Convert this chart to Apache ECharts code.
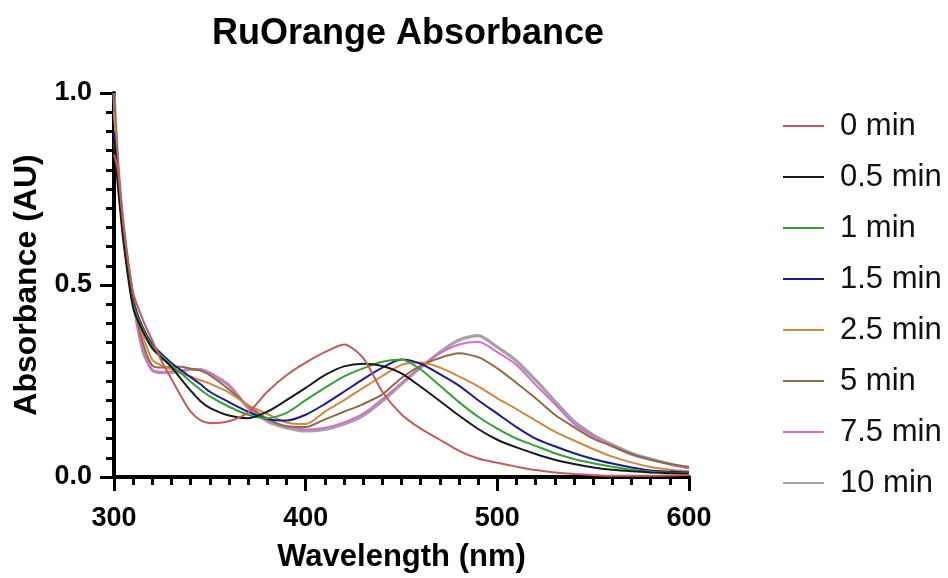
<!DOCTYPE html>
<html>
<head>
<meta charset="utf-8">
<title>RuOrange Absorbance</title>
<script src="https://cdn.jsdelivr.net/npm/echarts@6/dist/echarts.min.js"></script>
<style>
  html, body { margin: 0; padding: 0; background: #fff; }
  #chart { width: 948px; height: 578px; }
</style>
</head>
<body>
<div id="chart"></div>
<script>
// wavelengths (nm)
const wavelengths = [300, 302, 305, 310, 315, 320, 325, 330, 335, 340, 345, 350,
  360, 370, 380, 390, 400, 410, 420, 430, 440, 450, 460, 470, 480, 490, 500,
  510, 520, 530, 540, 550, 560, 570, 580, 590, 600]

const seriesNames = ['0 min', '0.5 min', '1 min', '1.5 min', '2.5 min', '5 min', '7.5 min', '10 min']
const seriesColors = ['#C45B5B', '#1a1a1a', '#33A033', '#1C1C8F', '#D4873F', '#8C6B45', '#D66FCB', '#A3A3A3']

// absorbance (AU)
const abs0 = [0.84, 0.80, 0.65, 0.48, 0.41, 0.355, 0.30, 0.255, 0.21, 0.17, 0.148, 0.14,
  0.145, 0.168, 0.222, 0.265, 0.298, 0.325, 0.345, 0.31, 0.222, 0.163, 0.126, 0.097, 0.068, 0.048, 0.037,
  0.027, 0.018, 0.012, 0.008, 0.005, 0.003, 0.003, 0.003, 0.004, 0.005]
const abs05 = [0.88, 0.76, 0.61, 0.44, 0.38, 0.335, 0.31, 0.286, 0.255, 0.225, 0.198, 0.18,
  0.16, 0.153, 0.17, 0.2, 0.232, 0.265, 0.288, 0.295, 0.289, 0.27, 0.235, 0.198, 0.16, 0.125, 0.097,
  0.077, 0.06, 0.045, 0.034, 0.025, 0.019, 0.015, 0.012, 0.01, 0.008]
const abs1 = [0.87, 0.77, 0.62, 0.45, 0.385, 0.34, 0.315, 0.29, 0.27, 0.248, 0.228, 0.21,
  0.183, 0.162, 0.153, 0.167, 0.2, 0.232, 0.262, 0.283, 0.3, 0.306, 0.28, 0.238, 0.195, 0.157, 0.126,
  0.1, 0.081, 0.062, 0.047, 0.036, 0.027, 0.019, 0.014, 0.011, 0.009]
const abs15 = [0.90, 0.78, 0.63, 0.46, 0.39, 0.345, 0.32, 0.297, 0.278, 0.26, 0.242, 0.222,
  0.195, 0.17, 0.151, 0.147, 0.162, 0.19, 0.222, 0.255, 0.285, 0.306, 0.295, 0.268, 0.238, 0.2, 0.165,
  0.13, 0.1, 0.08, 0.062, 0.047, 0.035, 0.025, 0.017, 0.014, 0.012]
const abs25 = [0.95, 0.80, 0.64, 0.47, 0.37, 0.305, 0.29, 0.28, 0.27, 0.262, 0.252, 0.243,
  0.22, 0.187, 0.164, 0.142, 0.138, 0.17, 0.2, 0.232, 0.263, 0.292, 0.298, 0.285, 0.262, 0.236, 0.205,
  0.177, 0.147, 0.118, 0.095, 0.073, 0.053, 0.038, 0.026, 0.019, 0.015]
const abs5 = [1.0, 0.82, 0.65, 0.47, 0.35, 0.29, 0.285, 0.287, 0.287, 0.282, 0.277, 0.265,
  0.228, 0.186, 0.152, 0.132, 0.13, 0.15, 0.17, 0.19, 0.215, 0.258, 0.29, 0.31, 0.322, 0.312, 0.283,
  0.245, 0.205, 0.162, 0.13, 0.1, 0.08, 0.06, 0.045, 0.034, 0.026]
const abs75 = [1.0, 0.82, 0.65, 0.46, 0.33, 0.278, 0.274, 0.274, 0.278, 0.282, 0.28, 0.272,
  0.24, 0.182, 0.148, 0.132, 0.124, 0.128, 0.142, 0.165, 0.203, 0.245, 0.287, 0.322, 0.345, 0.352, 0.325,
  0.292, 0.24, 0.19, 0.138, 0.106, 0.08, 0.058, 0.045, 0.033, 0.022]
const abs10 = [1.0, 0.82, 0.65, 0.46, 0.33, 0.278, 0.272, 0.272, 0.276, 0.28, 0.28, 0.27,
  0.238, 0.18, 0.145, 0.128, 0.12, 0.124, 0.138, 0.16, 0.198, 0.242, 0.285, 0.325, 0.357, 0.368, 0.338,
  0.302, 0.252, 0.198, 0.145, 0.11, 0.084, 0.062, 0.047, 0.034, 0.024]

const allAbs = [abs0, abs05, abs1, abs15, abs25, abs5, abs75, abs10]

const font = 'Liberation Sans, Arial, sans-serif'

function buildSeries () {
  const list = []
  // draw the later times first so that 0 min ends on top
  for (let i = allAbs.length - 1; i >= 0; i--) {
    list.push({
      name: seriesNames[i],
      type: 'line',
      data: wavelengths.map((w, k) => [w, allAbs[i][k]]),
      showSymbol: false,
      symbol: 'none',
      smooth: 0.25,
      color: seriesColors[i],
      lineStyle: { width: i === 7 ? 3.2 : 2, color: seriesColors[i] }
    })
  }
  return list
}

const chart = echarts.init(document.getElementById('chart'))
chart.setOption({
  animation: false,
  backgroundColor: '#fff',
  title: {
    text: 'RuOrange Absorbance',
    left: 403,
    top: 11,
    textAlign: 'center',
    textStyle: { fontFamily: font, fontWeight: 'bold', fontSize: 36, color: '#000' }
  },
  legend: {
    orient: 'vertical',
    left: 778,
    top: 105,
    icon: 'rect',
    itemWidth: 41,
    itemHeight: 2,
    itemGap: 19,
    data: seriesNames,
    textStyle: { fontFamily: font, fontSize: 31, color: '#111', lineHeight: 32, padding: [0, 0, 0, 11] }
  },
  grid: { left: 114, right: 259, top: 93, bottom: 101 },
  xAxis: {
    type: 'value',
    min: 300,
    max: 600,
    interval: 100,
    name: 'Wavelength (nm)',
    nameLocation: 'middle',
    nameGap: 65,
    nameTextStyle: { fontFamily: font, fontWeight: 'bold', fontSize: 31, color: '#000' },
    axisLine: { lineStyle: { color: '#000', width: 4 } },
    axisTick: { length: 14, lineStyle: { color: '#000', width: 3 } },
    minorTick: { show: true, splitNumber: 10, length: 8, lineStyle: { color: '#000', width: 3 } },
    axisLabel: { margin: 28, fontFamily: font, fontWeight: 'bold', fontSize: 27, color: '#000' },
    splitLine: { show: false }
  },
  yAxis: {
    type: 'value',
    min: 0,
    max: 1,
    interval: 0.5,
    name: 'Absorbance (AU)',
    nameLocation: 'middle',
    nameGap: 64,
    nameTextStyle: { fontFamily: font, fontWeight: 'bold', fontSize: 32, color: '#000' },
    axisLine: { show: true, lineStyle: { color: '#000', width: 4 } },
    axisTick: { show: true, length: 14, lineStyle: { color: '#000', width: 3 } },
    minorTick: { show: true, splitNumber: 10, length: 8, lineStyle: { color: '#000', width: 3 } },
    axisLabel: {
      margin: 22,
      fontFamily: font,
      fontWeight: 'bold',
      fontSize: 27,
      color: '#000',
      formatter: v => v.toFixed(1)
    },
    splitLine: { show: false }
  },
  series: buildSeries()
})
</script>
</body>
</html>
